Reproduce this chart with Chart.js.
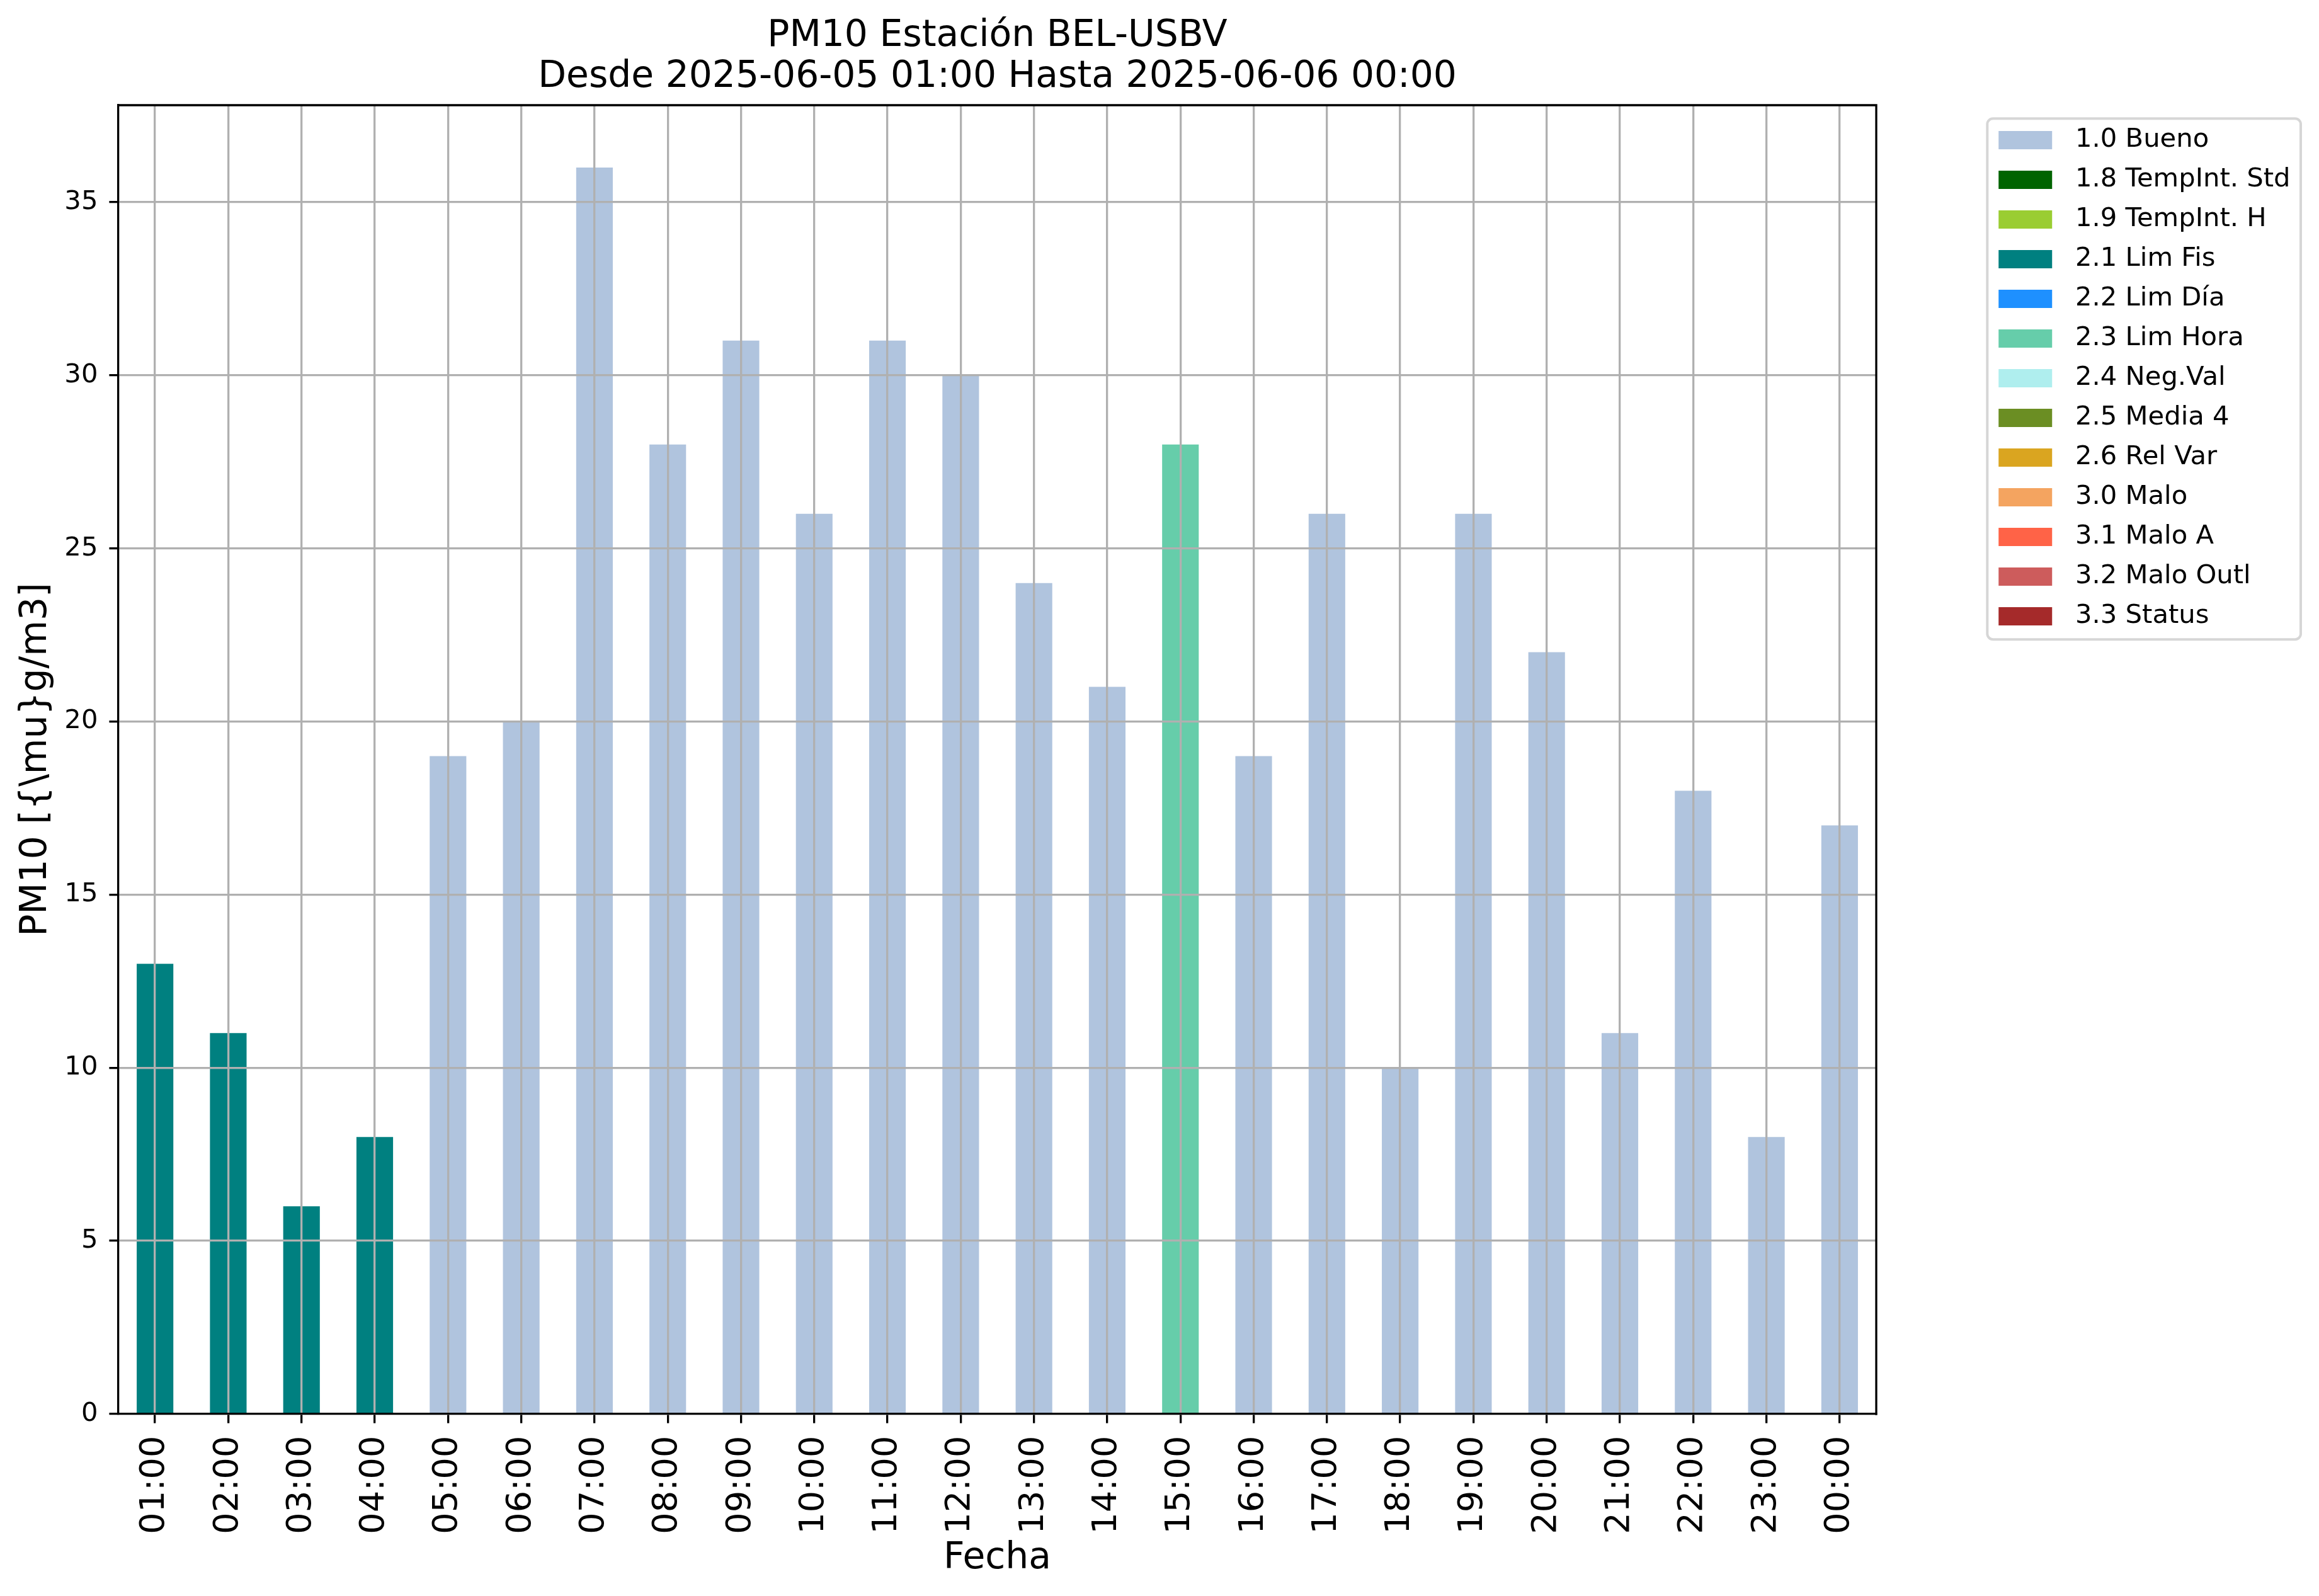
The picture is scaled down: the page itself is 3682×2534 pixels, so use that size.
<!DOCTYPE html>
<html>
<head>
<meta charset="utf-8">
<script src="https://cdn.jsdelivr.net/npm/chart.js@4.4.1/dist/chart.umd.min.js"></script>
<style>
  html, body { margin: 0; padding: 0; background: #ffffff; }
  #wrap { width: 3682px; height: 2534px; position: relative; background: #ffffff; }
</style>
</head>
<body>
<div id="wrap"><canvas id="chart"></canvas></div>
<script>
// ---------------- data ----------------
const hours = ['01:00','02:00','03:00','04:00','05:00','06:00','07:00','08:00','09:00','10:00','11:00','12:00',
               '13:00','14:00','15:00','16:00','17:00','18:00','19:00','20:00','21:00','22:00','23:00','00:00'];
const pm10Values = [13, 11, 6, 8, 19, 20, 36, 28, 31, 26, 31, 30, 24, 21, 28, 19, 26, 10, 26, 22, 11, 18, 8, 17];
const hourFlags = ['2.1','2.1','2.1','2.1','1.0','1.0','1.0','1.0','1.0','1.0','1.0','1.0',
                   '1.0','1.0','2.3','1.0','1.0','1.0','1.0','1.0','1.0','1.0','1.0','1.0'];
const flagCodes = ['1.0','1.8','1.9','2.1','2.2','2.3','2.4','2.5','2.6','3.0','3.1','3.2','3.3'];
const flagNames = ['Bueno','TempInt. Std','TempInt. H','Lim Fis','Lim Día','Lim Hora','Neg.Val','Media 4',
                   'Rel Var','Malo','Malo A','Malo Outl','Status'];
const flagColors = ['#B0C4DE','#006400','#9ACD32','#008080','#1E90FF','#66CDAA','#AFEEEE','#6B8E23',
                    '#DAA520','#F4A460','#FF6347','#CD5C5C','#A52A2A'];
const yTicks = [0, 5, 10, 15, 20, 25, 30, 35];
const yMax = 37.8;
const titleLines = ['PM10 Estación BEL-USBV', 'Desde 2025-06-05 01:00 Hasta 2025-06-06 00:00'];
const yLabel = 'PM10 [{\\mu}g/m3]';
const xLabel = 'Fecha';

// ---------------- styling ----------------
const FONT = 'DejaVu Sans';
const LW = 3.3;
const LEG_FONT = 41.7;
const LEG_PAD = 21.3;
const LEG_W = 273.85;      // reserved width for the legend swatch column
const PATCH_X = 173;       // swatch offset inside that column
const PATCH_W = 85, PATCH_H = 29;

Chart.defaults.font.family = FONT;
Chart.defaults.color = '#000000';

const datasets = flagCodes.map((code, k) => ({
  label: code + ' ' + flagNames[k],
  data: pm10Values.map((v, i) => hourFlags[i] === code ? v : null),
  backgroundColor: flagColors[k],
  borderWidth: 0,
  barPercentage: 0.5,
  categoryPercentage: 1.0
}));

function makeSwatch(color) {
  const c = document.createElement('canvas');
  c.width = Math.round(LEG_W);
  c.height = PATCH_H;
  const g = c.getContext('2d');
  g.fillStyle = color;
  g.fillRect(PATCH_X, 0, PATCH_W, PATCH_H);
  return c;
}
const swatches = flagColors.map(makeSwatch);

const framePlugin = {
  id: 'mplFrames',
  beforeDraw(chart) {
    const lg = chart.legend;
    if (!lg || !lg.legendHitBoxes || !lg.legendHitBoxes.length) return;
    const hb = lg.legendHitBoxes;
    const ctx = chart.ctx;
    const x0 = hb[0].left;
    const left = x0 + PATCH_X - 18;
    const right = x0 + LEG_W + LEG_FONT / 2 + 358;
    const top = hb[0].top + LEG_FONT / 2 - 34.5;
    const bottom = hb[hb.length - 1].top + LEG_FONT / 2 + 36.5;
    ctx.save();
    ctx.beginPath();
    ctx.roundRect(left, top, right - left, bottom - top, 9);
    ctx.fillStyle = '#ffffff';
    ctx.fill();
    ctx.lineWidth = 4;
    ctx.strokeStyle = '#d6d6d6';
    ctx.stroke();
    ctx.restore();
  },
  afterDraw(chart) {
    const a = chart.chartArea;
    const ctx = chart.ctx;
    ctx.save();
    ctx.strokeStyle = '#000000';
    ctx.lineWidth = LW;
    ctx.lineCap = 'square';
    ctx.beginPath();
    ctx.moveTo(a.left, a.top);
    ctx.lineTo(a.right, a.top);
    ctx.lineTo(a.right, a.bottom);
    ctx.stroke();
    ctx.restore();
  }
};

new Chart(document.getElementById('chart'), {
  type: 'bar',
  data: { labels: hours, datasets },
  plugins: [framePlugin],
  options: {
    responsive: true,
    maintainAspectRatio: false,
    devicePixelRatio: 1,
    animation: false,
    layout: { padding: { top: 0, left: 0, bottom: 0, right: 35.5 }, autoPadding: false },
    plugins: {
      tooltip: { enabled: false },
      title: {
        display: true,
        text: titleLines,
        color: '#000000',
        fullSize: false,
        font: { size: 58.3, weight: 'normal', lineHeight: 1.115 },
        padding: { top: 25.3, bottom: 11.7 }
      },
      legend: {
        display: true,
        position: 'right',
        align: 'start',
        fullSize: false,
        title: { display: true, text: '', font: { size: 2, lineHeight: 1 }, padding: { top: 11.5, bottom: 0 } },
        labels: {
          usePointStyle: true,
          pointStyleWidth: LEG_W,
          boxHeight: PATCH_H,
          padding: LEG_PAD,
          color: '#000000',
          font: { size: LEG_FONT },
          generateLabels(chart) {
            const items = Chart.defaults.plugins.legend.labels.generateLabels(chart);
            items.forEach((it, i) => { it.pointStyle = swatches[i]; it.hidden = false; });
            return items;
          }
        }
      }
    },
    scales: {
      x: {
        stacked: true,
        offset: true,
        afterFit(scale) { scale.height = 289; },
        grid: { display: true, offset: false, color: '#b0b0b0', lineWidth: LW, z: 1,
                drawTicks: true, tickLength: 14.6, tickColor: '#000000', tickWidth: LW },
        border: { display: true, color: '#000000', width: LW, z: 2 },
        ticks: { autoSkip: false, minRotation: 90, maxRotation: 90, padding: 20,
                 color: '#000000', font: { size: 54.2 } },
        title: { display: true, text: xLabel, color: '#000000', font: { size: 58.3 },
                 padding: { top: 0, bottom: 24.3 } }
      },
      y: {
        stacked: true,
        min: 0,
        max: yMax,
        afterFit(scale) { scale.width = 188; },
        afterBuildTicks(scale) { scale.ticks = yTicks.map(v => ({ value: v })); },
        grid: { display: true, color: '#b0b0b0', lineWidth: LW, z: 1,
                drawTicks: true, tickLength: 14.6, tickColor: '#000000', tickWidth: LW },
        border: { display: true, color: '#000000', width: LW, z: 2 },
        ticks: { padding: 18, color: '#000000', font: { size: 41.7 } },
        title: { display: true, text: yLabel, color: '#000000', font: { size: 58.3 },
                 padding: { top: 22.7, bottom: 0 } }
      }
    }
  }
});
</script>
</body>
</html>
